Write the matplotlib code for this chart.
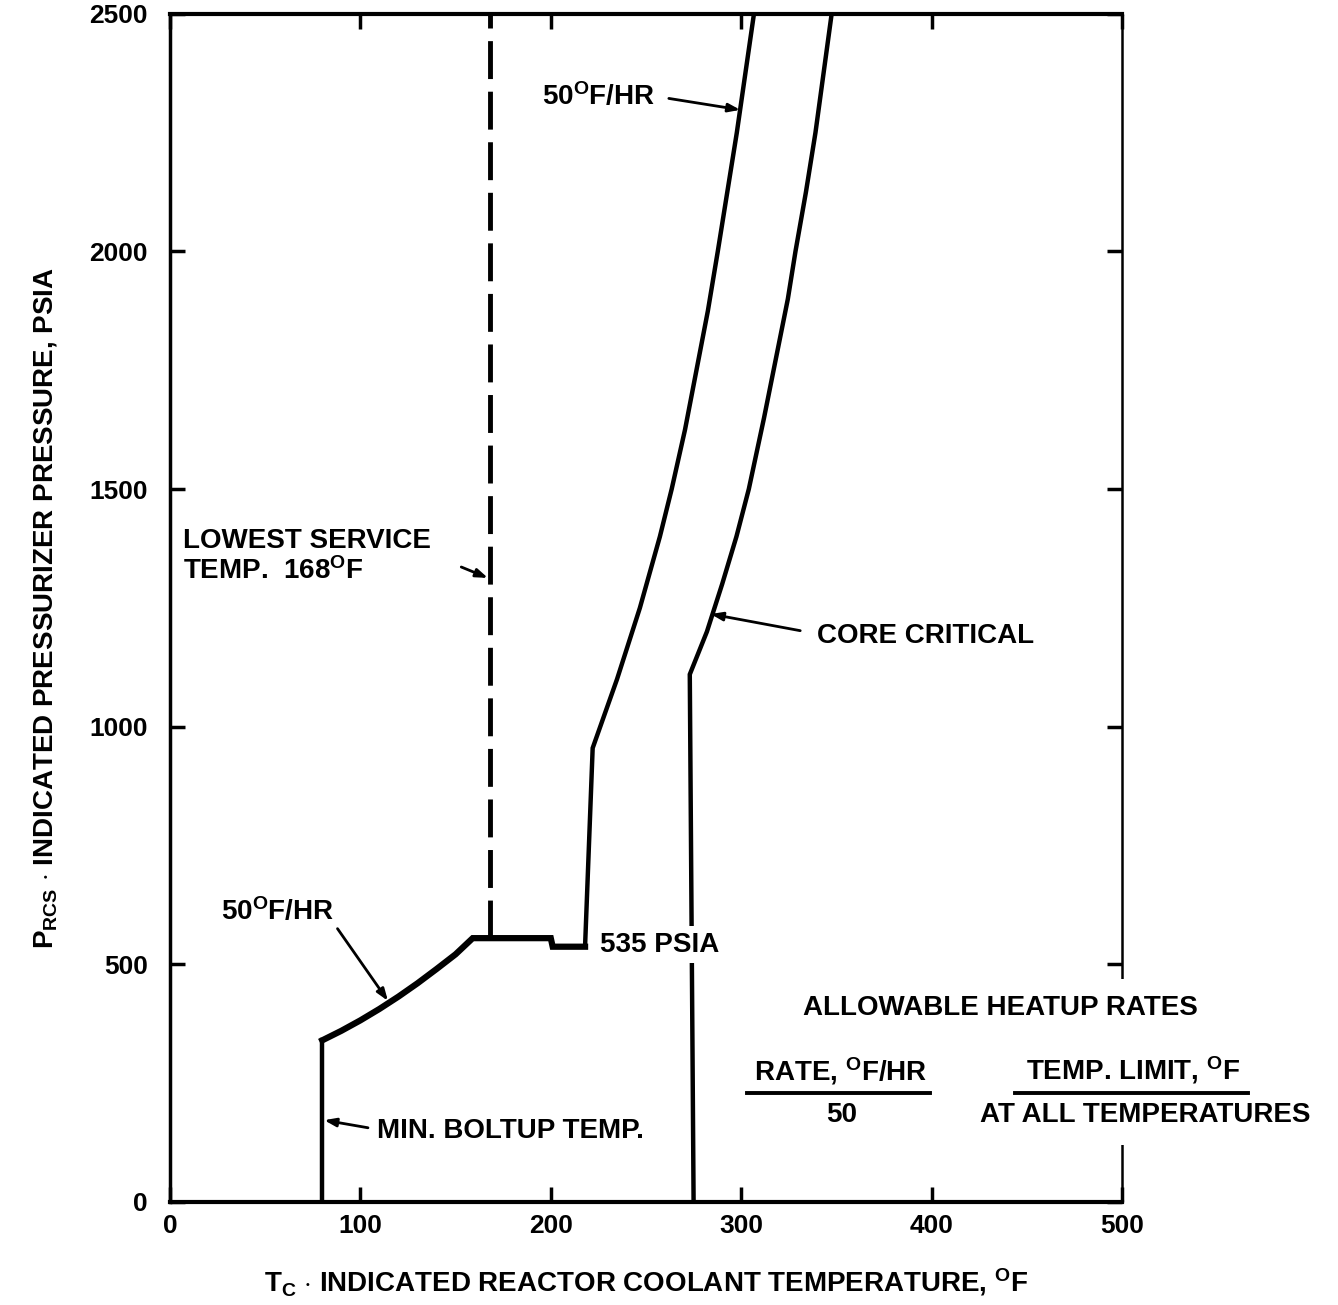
import matplotlib.pyplot as plt
from matplotlib.patches import Rectangle

plt.rcParams['font.family'] = ['Liberation Sans', 'DejaVu Sans']
plt.rcParams['font.weight'] = 'bold'
plt.rcParams['mathtext.fontset'] = 'custom'
plt.rcParams['mathtext.rm'] = 'Liberation Sans:bold'
plt.rcParams['mathtext.it'] = 'Liberation Sans:bold'
plt.rcParams['mathtext.bf'] = 'Liberation Sans:bold'
plt.rcParams['mathtext.default'] = 'rm'

# 50 F/HR heatup limit incl. min boltup temp (deg F, psia)
heatup_t = [80, 80, 90, 100, 110, 120, 130, 140, 150, 159, 200, 201, 218,
            222, 234.8, 246.8, 257.3, 263.5, 270.5, 276.5, 282.5, 287.7, 297.7, 306.7]
heatup_p = [0, 340, 360, 382, 406, 432, 460, 490, 521, 555, 555, 537, 537,
            955, 1100, 1250, 1400, 1500, 1625, 1750, 1875, 2000, 2250, 2500]

# core critical limit
core_t = [275, 273, 282, 290, 297.5, 304, 312, 319.5, 324.5, 328.5, 334, 339, 347.5]
core_p = [0, 1110, 1200, 1300, 1400, 1500, 1650, 1800, 1900, 2000, 2125, 2250, 2500]

# lowest service temperature
lst_t = [168, 168]
lst_p = [555, 2500]

x_ticks = [0, 100, 200, 300, 400, 500]
y_ticks = [0, 500, 1000, 1500, 2000, 2500]

DEG = r'$^{\mathrm{O}}$'
FS = 20

fig = plt.figure(figsize=(13.38, 13.05), dpi=100)
ax = fig.add_axes([0.127, 0.079, 0.7116, 0.9104])

ax.plot(heatup_t[:2], heatup_p[:2], color='black', lw=3.2, solid_joinstyle='miter')
ax.plot(heatup_t[1:13], heatup_p[1:13], color='black', lw=4.5, solid_joinstyle='miter')
ax.plot(heatup_t[12:], heatup_p[12:], color='black', lw=3.2, solid_joinstyle='miter')
ax.plot(core_t, core_p, color='black', lw=3.2, solid_joinstyle='miter')
ax.plot(lst_t, lst_p, color='black', lw=3.5, dashes=(7.8, 2.6))

ax.set_xlim(0, 500)
ax.set_ylim(0, 2500)
ax.set_xticks(x_ticks)
ax.set_yticks(y_ticks)
ax.tick_params(direction='in', length=11, width=2.5, top=True, right=True,
               labelsize=19)
ax.tick_params(axis='x', pad=9)
ax.tick_params(axis='y', pad=16)
for lab in ax.get_xticklabels() + ax.get_yticklabels():
    lab.set_fontweight('bold')

ax.spines['left'].set_linewidth(2.5)
ax.spines['bottom'].set_linewidth(3)
ax.spines['top'].set_linewidth(3)
ax.spines['right'].set_linewidth(1.8)

ax.set_xlabel(r'T$_{\mathrm{C}}$ $\cdot$ INDICATED REACTOR COOLANT TEMPERATURE, ' + DEG + 'F',
              fontsize=FS, fontweight='bold', labelpad=20)
ax.set_ylabel(r'P$_{\mathrm{RCS}}$ $\cdot$ INDICATED PRESSURIZER PRESSURE, PSIA',
              fontsize=FS, fontweight='bold', labelpad=22)

arrow = dict(arrowstyle='-|>,head_length=0.7,head_width=0.25', lw=2,
             color='black', shrinkA=0, shrinkB=0)

# labels + pointer arrows
ax.text(255, 2325, '50' + DEG + 'F/HR', fontsize=FS, ha='right', va='center')
ax.annotate('', xy=(299.5, 2298), xytext=(262, 2322), arrowprops=arrow)

ax.text(7, 1390, 'LOWEST SERVICE', fontsize=FS, ha='left', va='center')
ax.text(7, 1328, 'TEMP.  168' + DEG + 'F', fontsize=FS, ha='left', va='center')
ax.annotate('', xy=(167, 1313), xytext=(153, 1336), arrowprops=arrow)

ax.text(340, 1191, 'CORE CRITICAL', fontsize=FS, ha='left', va='center')
ax.annotate('', xy=(284, 1237), xytext=(331, 1202), arrowprops=arrow)

ax.text(27, 610, '50' + DEG + 'F/HR', fontsize=FS, ha='left', va='center')
ax.annotate('', xy=(114.5, 423), xytext=(88, 575), arrowprops=arrow)

ax.text(226, 541, '535 PSIA', fontsize=FS, ha='left', va='center', zorder=4,
        bbox=dict(facecolor='white', edgecolor='none', pad=4))

ax.text(109, 150, 'MIN. BOLTUP TEMP.', fontsize=FS, ha='left', va='center')
ax.annotate('', xy=(81, 172), xytext=(104, 156), arrowprops=arrow)

# heatup rate table, covers the right spine
ax.add_patch(Rectangle((485, 120), 40, 350, facecolor='white', edgecolor='none',
                       zorder=3, clip_on=False))
ax.text(436, 408, 'ALLOWABLE HEATUP RATES', fontsize=FS, ha='center', va='center', zorder=4)
ax.text(352, 276, 'RATE, ' + DEG + 'F/HR', fontsize=FS, ha='center', va='center', zorder=4)
ax.plot([303, 399], [229, 229], color='black', lw=2.8, clip_on=False, zorder=4)
ax.text(353, 183, '50', fontsize=FS, ha='center', va='center', zorder=4)
ax.text(506, 278, 'TEMP. LIMIT, ' + DEG + 'F', fontsize=FS, ha='center', va='center', zorder=4)
ax.plot([444, 566], [229, 229], color='black', lw=2.8, clip_on=False, zorder=4)
ax.text(512, 183, 'AT ALL TEMPERATURES', fontsize=FS, ha='center', va='center', zorder=4)

fig.savefig('out.png', dpi=100)
